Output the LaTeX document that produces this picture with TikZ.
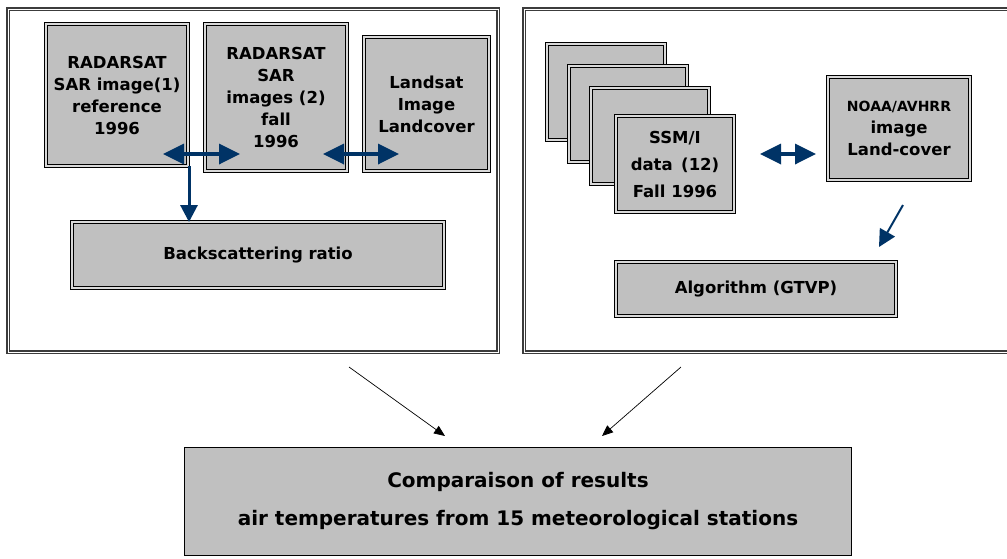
\documentclass[tikz,border=0pt]{standalone}
\usepackage{fontspec}
\setmainfont{DejaVu Sans}
\usetikzlibrary{arrows.meta}
\definecolor{boxgray}{RGB}{192,192,192}
\definecolor{navy}{RGB}{0,51,102}
\definecolor{framegray}{RGB}{60,60,60}
\begin{document}
    \begin{tikzpicture}[x=1pt,y=-1pt,
        panel/.style={draw=framegray,double=white,double distance=1pt,line width=1.2pt,outer sep=0pt,
            inner sep=0pt,minimum height=343pt},
        box/.style={draw=black,double=black!15,double distance=2pt,line width=0.9pt,fill=boxgray,
            outer sep=0pt,inner sep=0pt,align=center,font=\bfseries\fontsize{16.5}{22}\selectfont},
        dblarr/.style={draw=navy,line width=3.5pt,{Triangle[length=21pt,width=20pt]}-{Triangle[length=21pt,width=20pt]}},
        bluearr/.style={draw=navy,line width=3pt,-{Triangle[length=17pt,width=17pt]}},
        thinarr/.style={draw=black,line width=0.7pt,-{Triangle[length=11pt,width=9pt]}}]
    \useasboundingbox (0,0) rectangle (1007,558);
    % left and right panels
    \node[panel,minimum width=490pt] (lpanel) at (253,180.5) {};
    \node[panel,minimum width=496pt] (rpanel) at (772,180.5) {};
    % radar side
    \node[box,minimum width=142,minimum height=142] (rsar1) at (117,95)
        {RADARSAT\\SAR image(1)\\reference\\1996};
    \node[box,minimum width=142,minimum height=147] (rsar2) at (276,97.5)
        {RADARSAT\\SAR\\images (2)\\fall\\1996};
    \node[box,minimum width=125,minimum height=134] (landsat) at (426.5,104)
        {Landsat\\Image\\Landcover};
    \node[box,minimum width=372,minimum height=66] (bsr) at (258,255) {Backscattering ratio};
    \coordinate (row) at (0,154);
    \draw[dblarr] ([xshift=-25pt]rsar1.east |- row) -- ([xshift=35pt]rsar2.west |- row);
    \draw[dblarr] ([xshift=-24pt]rsar2.east |- row) -- ([xshift=35pt]landsat.west |- row);
    \draw[bluearr] ([xshift=1pt]rsar1.south east) -- ([xshift=1pt]rsar1.south east |- bsr.north);
    % radiometer side
    \foreach \i/\x/\y in {1/606/92,2/628/114,3/650/136}
    \node[box,minimum width=118,minimum height=96] (ssm\i) at (\x,\y) {};
    \node[box,minimum width=118,minimum height=96,font=\bfseries\fontsize{16.5}{27}\selectfont] (ssm) at (675,164)
        {SSM/I\\data\, (12)\\Fall 1996};
    \node[box,minimum width=142,minimum height=103] (noaa) at (899,128.5)
        {{\fontsize{14}{21}\selectfont NOAA/AVHRR}\\image\\Land-cover};
    \node[box,minimum width=280,minimum height=54] (algo) at (756,289) {Algorithm (GTVP)};
    \draw[dblarr] ([xshift=26pt]ssm.east |- row) -- ([xshift=-12pt]noaa.west |- row);
    \draw[bluearr,line width=2pt] ([shift={(4,25)}]noaa.south) -- ([shift={(-17,-15)}]algo.north east);
    % results
    \node[draw=black,line width=1pt,fill=boxgray,outer sep=0pt,minimum width=667,minimum height=108,
        align=center,font=\bfseries\fontsize{20}{38}\selectfont] (comp) at (518,501.5)
        {Comparaison of results\\air temperatures from 15 meteorological stations};
    \draw[thinarr] ([shift={(96,15)}]lpanel.south) -- ([shift={(-73,-11.5)}]comp.north);
    \draw[thinarr] ([shift={(-91,15)}]rpanel.south) -- ([shift={(84,-11.5)}]comp.north);
    \end{tikzpicture}
\end{document}
